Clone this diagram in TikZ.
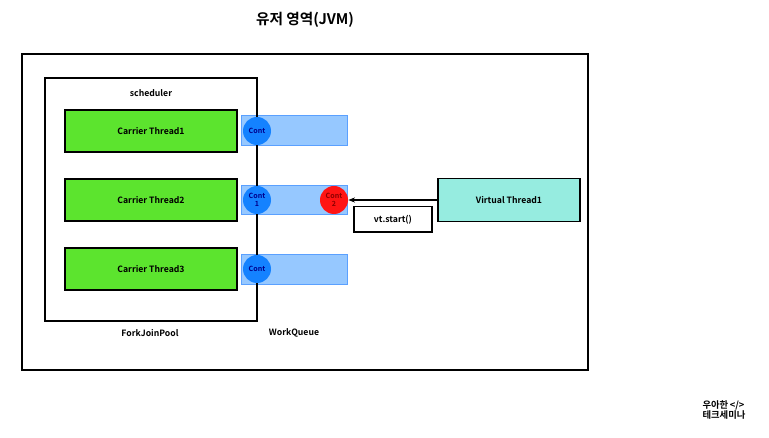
\documentclass[tikz,border=0pt]{standalone}
\usepackage{fontspec}
\setmainfont{Noto Sans CJK KR}[BoldFont={Noto Sans CJK KR Bold}]
\usetikzlibrary{positioning, arrows.meta}
\definecolor{CarrierGreen}{RGB}{92, 228, 46}
\definecolor{QueueBlue}{RGB}{150, 200, 255}
\definecolor{QueueEdge}{RGB}{90, 160, 255}
\definecolor{ContBlue}{RGB}{20, 130, 255}
\definecolor{ContRed}{RGB}{255, 20, 20}
\definecolor{VirtCyan}{RGB}{150, 236, 224}
\tikzset{
  box/.style={rectangle, draw=black, line width=1.2pt, align=center, font=\bfseries\fontsize{6.5}{7}\selectfont},
  carrier/.style={box, fill=CarrierGreen, minimum width=129pt, minimum height=31.5pt},
  queue/.style={rectangle, draw=QueueEdge, fill=QueueBlue, line width=0.8pt, minimum width=80pt, minimum height=22pt},
  cont/.style={circle, fill=ContBlue, minimum size=21pt, inner sep=0pt, align=center,
    text=blue!55!black, font=\bfseries\fontsize{5.3}{5.8}\selectfont},
  virt/.style={box, fill=VirtCyan, minimum width=106.5pt, minimum height=32pt},
  label/.style={font=\bfseries\fontsize{6.5}{7}\selectfont},
  flow/.style={-{Stealth[length=5pt]}, line width=0.8pt},
}

\begin{document}
\begin{tikzpicture}[x=0.75pt, y=-0.75pt, node distance=4pt]
  \useasboundingbox (0,0) rectangle (769,438);
  % title and outer JVM box
  \node[font=\bfseries\fontsize{11}{12}\selectfont] (title) at (305,20) {유저 영역(JVM)};
  \draw[line width=1.5pt] (22,54) rectangle (588,370);
  % work queues
  \node[queue] (q1) at (294.5,130.5) {};
  \node[queue] (q2) at (294.5,200) {};
  \node[queue] (q3) at (294.5,269.5) {};
  % scheduler (ForkJoinPool)
  \draw[line width=1.1pt] (45,78) rectangle (257,321);
  \node[label] (sched) at (151,93) {scheduler};
  \node[carrier] (ct1) at (151,131) {Carrier Thread1};
  \node[carrier] (ct2) at (151,200) {Carrier Thread2};
  \node[carrier] (ct3) at (151,269) {Carrier Thread3};
  \node[label] (fjp) at (150,333) {ForkJoinPool};
  \node[label] (wq) at (294,333) {WorkQueue};
  % continuations
  \node[cont] (c1) at (257,131) {Cont};
  \node[cont] (c2) at (257,200) {Cont\\1};
  \node[cont] (c3) at (257,269) {Cont};
  \node[cont, fill=ContRed, text=red!55!black] (c4) at (334,200) {Cont\\2};
  % virtual thread
  \node[virt] (vt) at (509,200) {Virtual Thread1};
  \node[box, line width=1pt, minimum width=58.5pt, minimum height=19pt] (start) at (393,219.5) {vt.start()};
  \draw[flow] (vt.west) -- (c4.east);
  % logo
  \node[font=\bfseries\fontsize{7}{8}\selectfont, align=left] (logo) at (724,410) {우아한\,</>\\테크세미나};
\end{tikzpicture}
\end{document}
